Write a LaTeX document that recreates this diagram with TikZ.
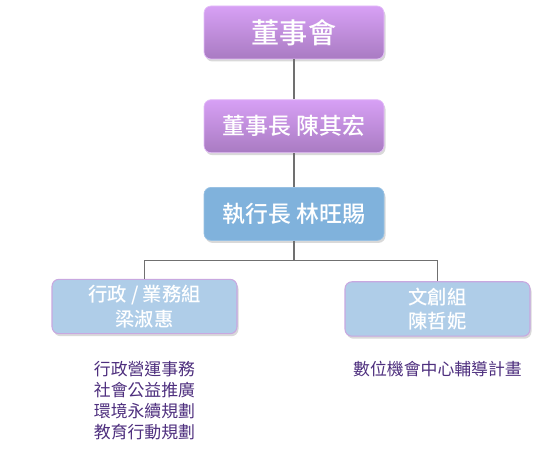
\documentclass[tikz,border=0pt]{standalone}
\usepackage{fontspec}
\setmainfont{Noto Sans CJK TC}
\newfontfamily\boxfont{Noto Sans CJK TC}[UprightFont=* Medium]
\usepackage{tikz}
\usetikzlibrary{positioning,shadows}
\definecolor{OrgLilacTop}{HTML}{D7A0F5}
\definecolor{OrgLilacBot}{HTML}{A97BC2}
\definecolor{OrgBlue}{HTML}{80B2DC}
\definecolor{OrgPale}{HTML}{AFCDE8}
\definecolor{OrgEdge}{HTML}{C8A8E0}
\definecolor{OrgNote}{HTML}{4E2F7E}
\definecolor{OrgLine}{HTML}{707070}

\begin{document}
\begin{tikzpicture}[node distance=0.8cm, every node/.style={font=\small}, unit/.style={rounded corners=1.4mm, minimum width=3.6cm, minimum height=1.06cm, align=center, text=white, drop shadow={opacity=0.3, shadow xshift=0.03cm, shadow yshift=-0.05cm}}, lilac/.style={unit, top color=OrgLilacTop, bottom color=OrgLilacBot, draw=OrgLilacTop!70!white, line width=0.4pt}, team/.style={unit, minimum width=3.7cm, fill=OrgPale, draw=OrgEdge, line width=0.6pt, font=\boxfont\fontsize{11pt}{14pt}\selectfont}, note/.style={align=center, text=OrgNote, font=\fontsize{9.6pt}{11.9pt}\selectfont}, link/.style={line width=0.85pt, color=OrgLine}]
\useasboundingbox (0,0) rectangle (11.08,-9.1);
\node[lilac, font=\boxfont\fontsize{16pt}{18pt}\selectfont] (board) at (5.88,-0.65) {董事會};
\node[lilac, below=0.8cm of board, font=\boxfont\fontsize{13pt}{15pt}\selectfont] (chair) {董事長 陳其宏};
\node[unit, below=0.68cm of chair, fill=OrgBlue, draw=OrgBlue!80!white, font=\boxfont\fontsize{13pt}{15pt}\selectfont] (ceo) {執行長 林旺賜};
\node[team] (admin) at (2.89,-6.13) {行政 / 業務組\\梁淑惠};
\node[team] (culture) at (8.75,-6.18) {文創組\\陳哲妮};
\node[note, below=0.42cm of admin] (adminwork) {行政營運事務\\社會公益推廣\\環境永續規劃\\教育行動規劃};
\node[note, below=0.36cm of culture] (culturework) {數位機會中心輔導計畫};
\draw[link] (board)--(chair); \draw[link] (chair)--(ceo);
\draw[link] (ceo.south) -- ++(0,-0.4) -| (admin.north); \draw[link] (ceo.south) -- ++(0,-0.4) -| (culture.north);
\end{tikzpicture}
\end{document}
